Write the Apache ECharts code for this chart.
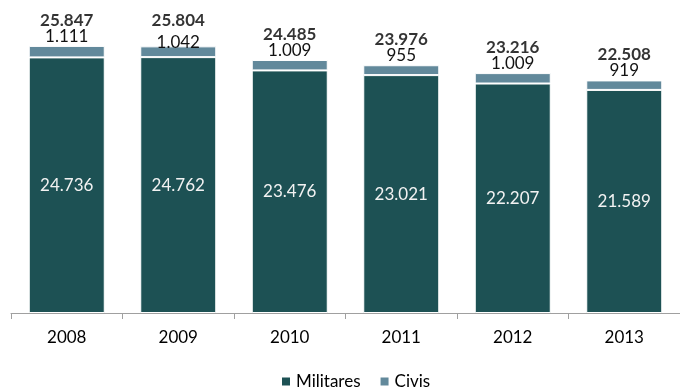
<!DOCTYPE html>
<html>
<head>
<meta charset="utf-8">
<script src="https://cdn.jsdelivr.net/npm/echarts@6/dist/echarts.min.js"></script>
<style>
  html, body { margin: 0; padding: 0; background: #fff; }
  #chart { width: 680px; height: 389px; }
</style>
</head>
<body>
<div id="chart"></div>
<script>
// Effectifs par année
const years = ['2008', '2009', '2010', '2011', '2012', '2013'];
const militares = [24736, 24762, 23476, 23021, 22207, 21589];
const civis = [1111, 1042, 1009, 955, 1009, 919];
const totals = militares.map((v, i) => v + civis[i]);

// Vertical nudge (px) for the "Civis" value labels
const civisLabelNudge = [0, 6, 0, 0, 0, 0];

const fmt = v => v.toLocaleString('de-DE');
const FONT = 'Lato, "Open Sans", sans-serif';

const chart = echarts.init(document.getElementById('chart'), null, { renderer: 'canvas' });

chart.setOption({
  animation: false,
  textStyle: { fontFamily: FONT },
  grid: { left: 11, right: -7, top: 3, bottom: 76, containLabel: false },
  legend: {
    left: 275,
    top: 368,
    icon: 'rect',
    itemWidth: 10,
    itemHeight: 10,
    itemGap: 18,
    textStyle: { fontFamily: FONT, fontSize: 17, color: '#000' },
    data: ['Militares', 'Civis']
  },
  xAxis: {
    type: 'category',
    data: years,
    boundaryGap: true,
    axisLine: { lineStyle: { color: '#a0a0a0', width: 1 } },
    axisTick: { show: true, length: 6, interval: 0, lineStyle: { color: '#a0a0a0' } },
    axisLabel: { fontFamily: FONT, fontSize: 17, color: '#000', margin: 16 }
  },
  yAxis: {
    type: 'value',
    min: 0,
    max: 30000,
    show: false,
    splitLine: { show: false }
  },
  series: [
    {
      name: 'Militares',
      type: 'bar',
      stack: 'total',
      barWidth: 76,
      data: militares,
      itemStyle: { color: '#1d5154', borderColor: '#ffffff', borderWidth: 1 },
      label: {
        show: true,
        position: 'inside',
        formatter: p => fmt(p.value),
        fontFamily: FONT,
        fontSize: 17,
        color: '#f2f2f2'
      }
    },
    {
      name: 'Civis',
      type: 'bar',
      stack: 'total',
      barWidth: 76,
      data: civis.map((v, i) => ({
        value: v,
        label: { offset: [0, civisLabelNudge[i]] }
      })),
      itemStyle: { color: '#62899b', borderColor: '#ffffff', borderWidth: 1 },
      label: {
        show: true,
        position: 'top',
        distance: 1,
        formatter: p => fmt(p.value),
        fontFamily: FONT,
        fontSize: 17,
        color: '#111'
      }
    },
    {
      name: 'Total',
      type: 'scatter',
      data: totals,
      symbolSize: 0,
      silent: true,
      label: {
        show: true,
        position: 'top',
        distance: 17,
        formatter: p => fmt(p.value),
        fontFamily: FONT,
        fontSize: 17,
        fontWeight: 'bold',
        color: '#000'
      },
      z: 5
    }
  ]
});
</script>
</body>
</html>
